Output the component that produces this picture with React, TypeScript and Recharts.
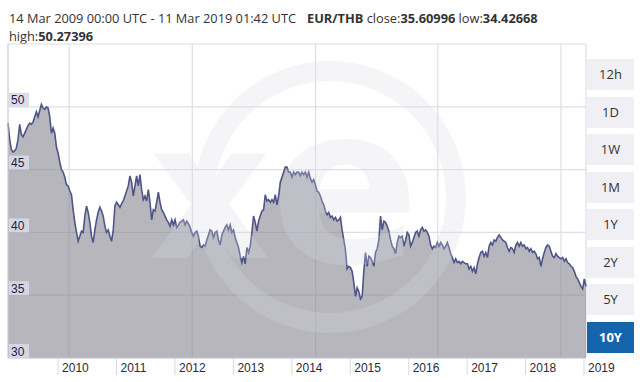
import { AreaChart, Area, XAxis, YAxis, CartesianGrid } from 'recharts'

// EUR/THB closing rate, roughly one reading every ~10 days, Mar 2009 .. Mar 2019
const rates2009to2010 = [
  48.7, 47.4, 46.6, 46.4, 46.5, 46.7, 47.4, 48.6, 47.8, 47.6,
  47.9, 48.2, 48.5, 48.7, 48.6, 48.8, 49.2, 49.6, 49.2, 49.7,
  50.2, 49.9, 49.8, 50.0, 49.9, 49.2, 47.9, 48.3, 47.9, 46.8,
  46.3, 45.6, 45.0, 44.8, 44.4, 43.8, 43.7, 43.3, 43.0, 41.8,
  40.8, 40.0, 39.3, 39.7, 40.1, 40.0, 41.3, 42.1, 41.6, 40.8,
  39.7, 39.2, 40.2, 41.0, 41.6, 42.0, 41.7, 41.3, 40.5, 40.0,
  40.2, 39.7, 39.3, 40.2, 42.1, 42.4, 42.2,
]
const rates2011to2012 = [
  42.0, 42.3, 42.5, 42.9, 43.3, 43.7, 44.5, 44.0, 42.9, 43.7,
  44.5, 43.7, 44.6, 43.4, 42.6, 42.9, 42.5, 43.4, 42.4, 41.0,
  41.8, 41.7, 42.4, 43.2, 42.4, 41.8, 41.6, 41.3, 41.0, 40.8,
  40.5, 41.0, 40.6, 41.0, 40.4, 40.6, 40.8, 40.9, 41.0, 40.6,
  40.9, 40.7, 40.4, 40.0, 39.7, 40.0, 40.1, 39.7, 38.9, 38.8,
  39.0, 38.9, 39.4, 39.8, 40.2, 40.1, 39.6, 40.0, 40.1, 39.4,
  39.0, 39.8, 40.1, 40.4, 40.6, 40.2, 40.6, 40.0, 40.2,
]
const rates2013to2014 = [
  39.6, 39.2, 38.8, 38.1, 37.6, 38.1, 37.5, 38.8, 38.4, 38.9,
  40.0, 41.3, 40.8, 40.1, 40.9, 41.3, 41.7, 41.8, 43.0, 42.5,
  42.6, 42.4, 42.6, 42.4, 43.0, 42.2, 42.9, 44.0, 44.4, 44.8,
  45.2, 45.2, 44.8, 44.8, 44.4, 44.8, 44.6, 44.8, 44.8, 44.5,
  44.8, 44.6, 44.8, 44.4, 44.8, 44.3, 44.0, 44.2, 43.8, 43.3,
  43.2, 42.9, 42.5, 42.2, 41.7, 41.4, 41.6, 41.2, 41.3, 41.0,
  41.2, 40.9, 41.0, 41.2, 40.2, 39.4, 38.6, 37.1, 37.3,
]
const rates2015to2016 = [
  37.2, 36.9, 36.0, 34.9, 35.6, 35.3, 34.7, 34.9, 36.9, 38.4,
  37.3, 38.1, 38.0, 37.7, 37.3, 38.4, 38.7, 39.4, 41.3, 40.2,
  40.9, 40.8, 40.5, 40.1, 39.4, 38.9, 38.7, 38.3, 39.2, 39.7,
  39.6, 39.7, 38.9, 39.4, 40.0, 39.8, 38.9, 39.2, 39.6, 40.0,
  40.1, 39.7, 40.2, 40.4, 40.1, 40.2, 40.0, 39.7, 39.0, 38.7,
  38.9, 38.8, 39.2, 38.9, 39.2, 39.0, 38.7, 38.9, 39.2, 38.8,
  38.3, 38.0, 37.6, 37.9, 37.6, 37.7, 37.5, 37.7, 37.6,
]
const rates2017to2019 = [
  37.5, 37.5, 37.1, 37.3, 36.9, 37.2, 36.7, 37.5, 38.0, 38.4,
  38.5, 38.1, 38.4, 38.0, 38.9, 39.2, 39.0, 39.4, 39.3, 39.6,
  39.8, 39.6, 39.4, 39.3, 39.2, 38.8, 38.5, 38.8, 38.7, 38.4,
  39.0, 39.2, 38.9, 39.2, 38.9, 39.0, 38.7, 38.8, 38.5, 38.7,
  38.4, 38.5, 38.3, 37.9, 38.0, 37.3, 37.9, 38.4, 38.8, 39.0,
  38.9, 38.5, 38.1, 38.0, 38.3, 38.1, 38.0, 37.9, 38.0, 37.7,
  37.9, 37.6, 37.5, 37.3, 37.2, 36.9, 36.5, 36.3, 36.0, 35.7,
  35.5, 36.3, 35.7,
]

const yearTicks = [2010, 2011, 2012, 2013, 2014, 2015, 2016, 2017, 2018, 2019]
const priceTicks = [30, 35, 40, 45, 50]
// the chart's vertical grid is not tied to the year ticks
const gridTicks = [2010.19, 2011.235, 2012.297, 2013.343, 2014.406, 2015.452, 2016.498, 2017.543, 2018.606]
const periods = ['12h', '1D', '1W', '1M', '1Y', '2Y', '5Y', '10Y']
const activePeriod = '10Y'

const START = 2009.143
const END = 2019.034

const allRates = [...rates2009to2010, ...rates2011to2012, ...rates2013to2014, ...rates2015to2016, ...rates2017to2019]
const data = allRates.map((v, i) => ({ t: START + (i * (END - START)) / (allRates.length - 1), v }))

const PriceTick = (props: any) => {
  const { x, y, payload } = props
  return (
    <g>
      <rect x={x + 1} y={y - 14} width={20} height={14} fill="#d9d9e6" fillOpacity={0.9} />
      <text x={x + 3} y={y - 2.5} fontSize={12} fontFamily="Liberation Sans, Arial" fill="#1e2150" textAnchor="start">
        {payload.value}
      </text>
    </g>
  )
}

const YearTick = (props: any) => {
  const { x, y, payload } = props
  return (
    <g>
      <line x1={x} x2={x} y1={y} y2={y + 17} stroke="#d8d8e0" />
      <text x={x + 4} y={y + 14} fontSize={12} fontFamily="Liberation Sans, Arial" fill="#2a2a3a" textAnchor="start">
        {payload.value}
      </text>
    </g>
  )
}

export default function App() {
  return (
    <div style={{ position: 'absolute', left: 0, top: 0, width: 640, height: 382, background: '#fff', fontFamily: 'Open Sans' }}>
      <div style={{ position: 'absolute', left: 9, top: 9, fontSize: 12.8, color: '#333', whiteSpace: 'nowrap', lineHeight: '18px' }}>
        <span>14 Mar 2009 00:00 UTC - 11 Mar 2019 01:42 UTC</span>
        <span style={{ position: 'absolute', left: 298, top: 0 }}>
          <b>EUR/THB</b> close:<b>35.60996</b> low:<b>34.42668</b>
        </span>
        <div>
          high:<b>50.27396</b>
        </div>
      </div>

      <div style={{ position: 'absolute', left: 0, top: 0 }}>
        <AreaChart width={640} height={382} data={data} margin={{ top: 44, right: 54, left: 8, bottom: 0 }}>
          <CartesianGrid xAxisId="grid" stroke="#dedee6" strokeWidth={1.2} />
          <XAxis xAxisId="grid" dataKey="t" type="number" domain={[START, END]} ticks={gridTicks} hide />
          <XAxis
            dataKey="t"
            type="number"
            domain={[START, END]}
            ticks={yearTicks}
            height={24}
            tickSize={0}
            tickMargin={0}
            interval={0}
            axisLine={{ stroke: '#cacada' }}
            tick={<YearTick />}
          />
          <YAxis
            domain={[30, 55]}
            ticks={priceTicks}
            width={30}
            mirror
            interval={0}
            tickSize={0}
            tickMargin={0}
            axisLine={{ stroke: '#d4d4dc' }}
            tick={<PriceTick />}
          />
          <Area
            type="linear"
            dataKey="v"
            stroke="#4f5589"
            strokeWidth={1.6}
            fill="#86868f"
            fillOpacity={0.6}
            dot={false}
            isAnimationActive={false}
          />
        </AreaChart>
      </div>

      {/* xe watermark */}
      <svg width={640} height={382} style={{ position: 'absolute', left: 0, top: 0, pointerEvents: 'none' }}>
        <g opacity={0.26}>
          <circle cx={330} cy={197} r={126} fill="none" stroke="#dcdce8" strokeWidth={20} />
          <text x={210} y={258} fontSize={190} fontWeight="bold" fontFamily="DejaVu Sans" textAnchor="middle" fill="#dcdce8">x</text>
          <text x={345} y={262} fontSize={220} fontWeight="bold" fontFamily="DejaVu Sans" textAnchor="middle" fill="#dcdce8">e</text>
        </g>
      </svg>

      {periods.map((p, i) => (
        <div
          key={p}
          style={{
            position: 'absolute',
            left: 587,
            top: 59 + i * 37.5,
            width: 47,
            height: 31,
            lineHeight: '31px',
            textAlign: 'center',
            fontSize: 13,
            background: p === activePeriod ? '#1565ad' : '#f0f0f4',
            color: p === activePeriod ? '#fff' : '#333',
            fontWeight: p === activePeriod ? 700 : 400,
          }}
        >
          {p}
        </div>
      ))}
    </div>
  )
}
